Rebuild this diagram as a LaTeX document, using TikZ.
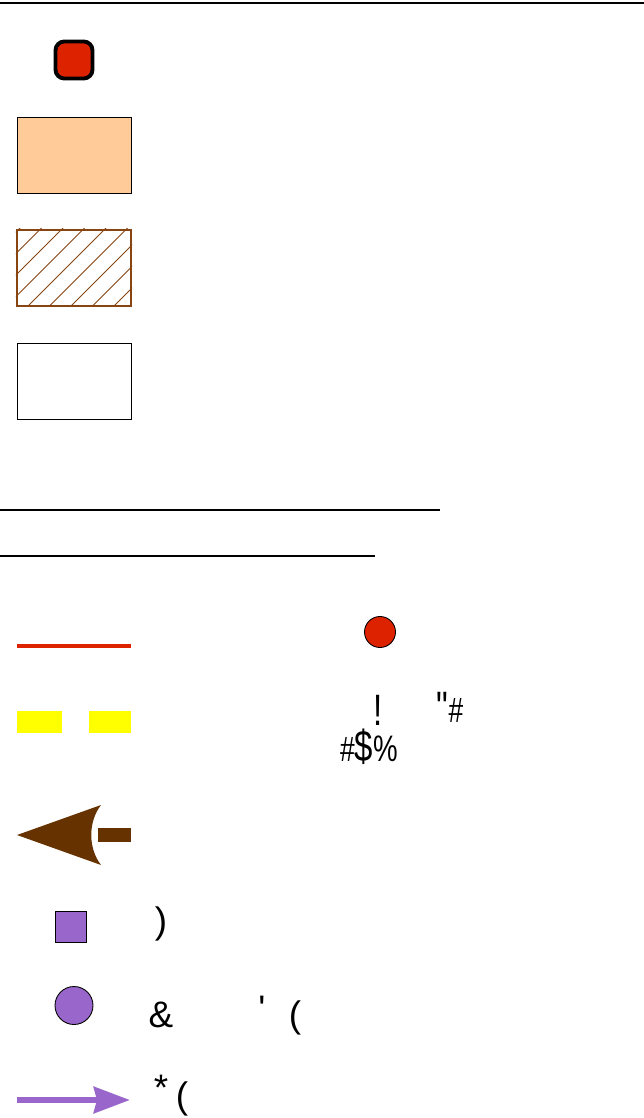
\documentclass[tikz,border=0pt]{standalone}
\usepackage{fontspec}
\setmainfont{Liberation Sans}[Ligatures=TeXOff]
\newfontfamily\narrowfont{Liberation Sans}[FakeStretch=0.75, Ligatures=TeXOff]
\usetikzlibrary{arrows.meta, positioning}
\definecolor{keyred}{HTML}{DD2200}
\definecolor{keypeach}{HTML}{FFCC99}
\definecolor{keybrown}{HTML}{884411}
\definecolor{keyarrow}{HTML}{663300}
\definecolor{keypurple}{HTML}{9966CC}
\definecolor{keyyellow}{HTML}{FFFF00}

\begin{document}
\begin{tikzpicture}[x=0.02cm, y=-0.02cm,
  keybox/.style={rectangle, minimum width=2.28cm, minimum height=1.52cm, inner sep=0pt,
                 draw=black, line width=0.5pt},
  keytext/.style={font=\fontsize{21}{24}\selectfont, inner sep=0pt},
  narrowtext/.style={font=\narrowfont\fontsize{25}{27}\selectfont, inner sep=0pt, anchor=base},
  rule/.style={line width=1.6pt, black}
]
  \useasboundingbox (0,0) rectangle (644,1118);

  % rules
  \coordinate (topl) at (0,3);     \coordinate (topr) at (644,3);
  \coordinate (midl) at (0,510);   \coordinate (midr) at (440,510);
  \coordinate (lowl) at (0,556);   \coordinate (lowr) at (375,556);
  \draw[rule] (topl) -- (topr);
  \draw[rule] (midl) -- (midr);
  \draw[rule] (lowl) -- (lowr);

  % area keys
  \node[draw=black, line width=2.2pt, fill=keyred, rounded corners=5pt, minimum size=0.74cm] (stopkey) at (74,60) {};
  \node[keybox, fill=keypeach] (areakey) at (74,155) {};
  \node[keybox, draw=keybrown, line width=1.2pt] (hatchkey) at (74,268) {};
  \begin{scope}
    \clip (hatchkey.south west) rectangle (hatchkey.north east);
    \foreach \k in {-5,...,5}
      \draw[keybrown, line width=0.5pt] (28+21.5*\k,306) -- ++(100,-100);
  \end{scope}
  \node[keybox] (blankkey) at (74,381) {};

  % line keys
  \coordinate (redl) at (17,646); \coordinate (redr) at (131,646);
  \draw[keyred, line width=2.3pt] (redl) -- (redr);
  \node[circle, draw=black, line width=0.5pt, fill=keyred, minimum size=0.62cm, inner sep=0pt] (dotkey) at (380,632) {};

  \node[fill=keyyellow, minimum width=0.9cm, minimum height=0.44cm, inner sep=0pt] (dasha) at (39.5,722) {};
  \node[fill=keyyellow, minimum width=0.84cm, minimum height=0.44cm, inner sep=0pt] (dashb) at (110,722) {};
  \node[narrowtext] (bang) at (378,725) {!};
  \node[narrowtext] (quotehash) at (450,722) {"{\fontsize{20}{22}\selectfont\#}};
  \node[narrowtext] (hashdollar) at (369,761)
    {{\fontsize{20}{22}\selectfont\#}\${\fontsize{21}{22}\selectfont\%}};

  \coordinate (headtip) at (17,835);
  \coordinate (bartail) at (131,835);
  \fill[keyarrow] (headtip) -- (101,805) .. controls (88,822) and (88,848) .. (101,865) -- cycle;
  \draw[keyarrow, line width=8.5pt] (bartail) -- ++(-33,0);

  % symbol keys
  \node[draw=black, line width=0.5pt, fill=keypurple, minimum size=0.62cm, inner sep=0pt] (boxkey) at (70.5,926.5) {};
  \node[keytext] (paren) at (161,924) {)};
  \node[circle, draw=black, line width=0.5pt, fill=keypurple, minimum size=0.76cm, inner sep=0pt] (ringkey) at (74,1005.5) {};
  \node[keytext] (amp) at (161,1015) {\&};
  \node[keytext] (tick) at (262,1009) {'};
  \node[keytext] (openparen) at (295,1018) {(};

  \coordinate (flowl) at (17,1100); \coordinate (flowr) at (130,1100);
  \draw[keypurple, line width=3.7pt, -{Stealth[length=0.72cm, width=0.52cm, inset=0.06cm]}] (flowl) -- (flowr);
  \node[keytext] (star) at (161,1088) {*};
  \node[keytext] (flowparen) at (182,1099) {(};
\end{tikzpicture}
\end{document}
